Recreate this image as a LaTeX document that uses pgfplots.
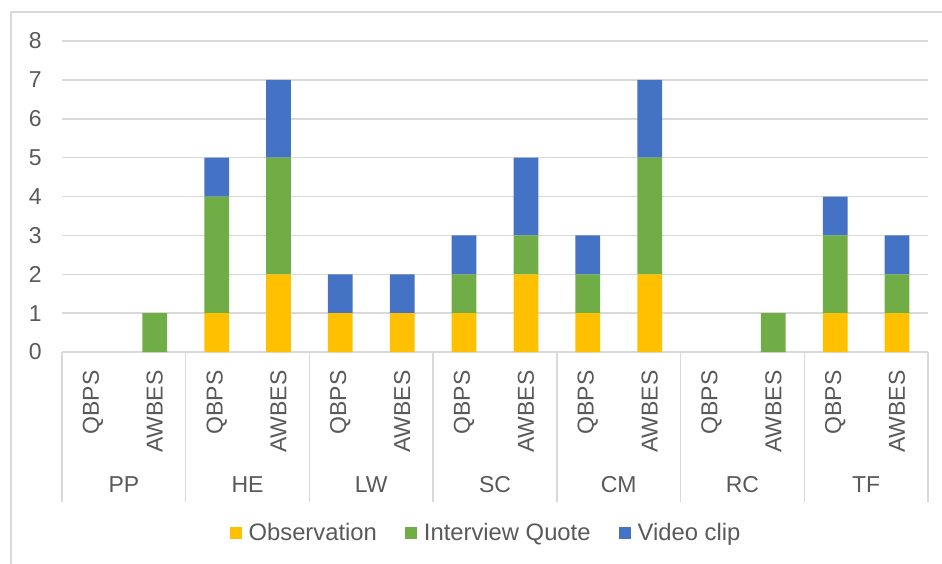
\documentclass[border=0pt]{standalone}
\usepackage{pgfplots}
\pgfplotsset{compat=1.18}
\usepackage{fontspec}
\setmainfont{Liberation Sans}
\definecolor{obs}{HTML}{FFC000}
\definecolor{intq}{HTML}{70AD47}
\definecolor{vid}{HTML}{4472C4}
\definecolor{gridc}{HTML}{D9D9D9}
\definecolor{txt}{HTML}{595959}
\newcommand{\cf}{\fontsize{11.5}{14}\selectfont}
\newcommand{\lf}{\fontsize{11.9}{14}\selectfont}
\begin{document}
\begin{tikzpicture}
\useasboundingbox (0,0) rectangle (471pt,281.5pt);
\draw[gridc, line width=0.75pt] (5.5pt,-5pt) -- (5.5pt,275.5pt) -- (480pt,275.5pt);
\begin{axis}[
  at={(31pt,105.5pt)}, anchor=south west,
  scale only axis, width=433pt, height=155.5pt,
  xmin=-0.5, xmax=13.5, ymin=0, ymax=8,
  ybar stacked, bar width=0.4,
  clip=false,
  axis line style={draw=none},
  major tick length=0pt,
  ymajorgrids, major grid style={gridc, line width=0.75pt},
  ytick={0,1,...,8},
  yticklabel style={font=\cf, text=txt, /pgf/number format/assume math mode=true, inner sep=0pt},
  yticklabel shift=10pt,
  xtick={0,1,...,13},
  xticklabels={QBPS,AWBES,QBPS,AWBES,QBPS,AWBES,QBPS,AWBES,QBPS,AWBES,QBPS,AWBES,QBPS,AWBES},
  xticklabel style={font=\cf, text=txt, rotate=90, anchor=east, inner sep=0pt},
  xticklabel shift=9pt,
  legend style={draw=none, fill=none, font=\lf, text=txt, legend columns=-1,
    at={(0.4896,-0.582)}, anchor=center,
    /tikz/every odd column/.append style={column sep=2.5pt},
    /tikz/every even column/.append style={column sep=13pt},
    nodes={inner sep=1pt}},
  legend image code/.code={\fill[#1] (0pt,-3pt) rectangle (6pt,3pt);},
]
\addplot[fill=obs, draw=none] coordinates {(0,0) (1,0) (2,1) (3,2) (4,1) (5,1) (6,1) (7,2) (8,1) (9,2) (10,0) (11,0) (12,1) (13,1)};
\addplot[fill=intq, draw=none] coordinates {(0,0) (1,1) (2,3) (3,3) (4,0) (5,0) (6,1) (7,1) (8,1) (9,3) (10,0) (11,1) (12,2) (13,1)};
\addplot[fill=vid, draw=none] coordinates {(0,0) (1,0) (2,1) (3,2) (4,1) (5,1) (6,1) (7,2) (8,1) (9,2) (10,0) (11,0) (12,1) (13,1)};
\legend{Observation, Interview Quote, Video clip}
\draw[gridc, line width=0.75pt] (axis cs:-0.5,0) -- (axis cs:13.5,0);
\draw[gridc, line width=0.75pt] (axis cs:-0.5,0) -- ++(0pt,-75pt);
\draw[gridc, line width=0.75pt] (axis cs:1.5,0) -- ++(0pt,-75pt);
\draw[gridc, line width=0.75pt] (axis cs:3.5,0) -- ++(0pt,-75pt);
\draw[gridc, line width=0.75pt] (axis cs:5.5,0) -- ++(0pt,-75pt);
\draw[gridc, line width=0.75pt] (axis cs:7.5,0) -- ++(0pt,-75pt);
\draw[gridc, line width=0.75pt] (axis cs:9.5,0) -- ++(0pt,-75pt);
\draw[gridc, line width=0.75pt] (axis cs:11.5,0) -- ++(0pt,-75pt);
\draw[gridc, line width=0.75pt] (axis cs:13.5,0) -- ++(0pt,-75pt);
\path (axis cs:0.5,0) node[yshift=-66.5pt, font=\cf, text=txt] {PP};
\path (axis cs:2.5,0) node[yshift=-66.5pt, font=\cf, text=txt] {HE};
\path (axis cs:4.5,0) node[yshift=-66.5pt, font=\cf, text=txt] {LW};
\path (axis cs:6.5,0) node[yshift=-66.5pt, font=\cf, text=txt] {SC};
\path (axis cs:8.5,0) node[yshift=-66.5pt, font=\cf, text=txt] {CM};
\path (axis cs:10.5,0) node[yshift=-66.5pt, font=\cf, text=txt] {RC};
\path (axis cs:12.5,0) node[yshift=-66.5pt, font=\cf, text=txt] {TF};
\end{axis}
\end{tikzpicture}
\end{document}
